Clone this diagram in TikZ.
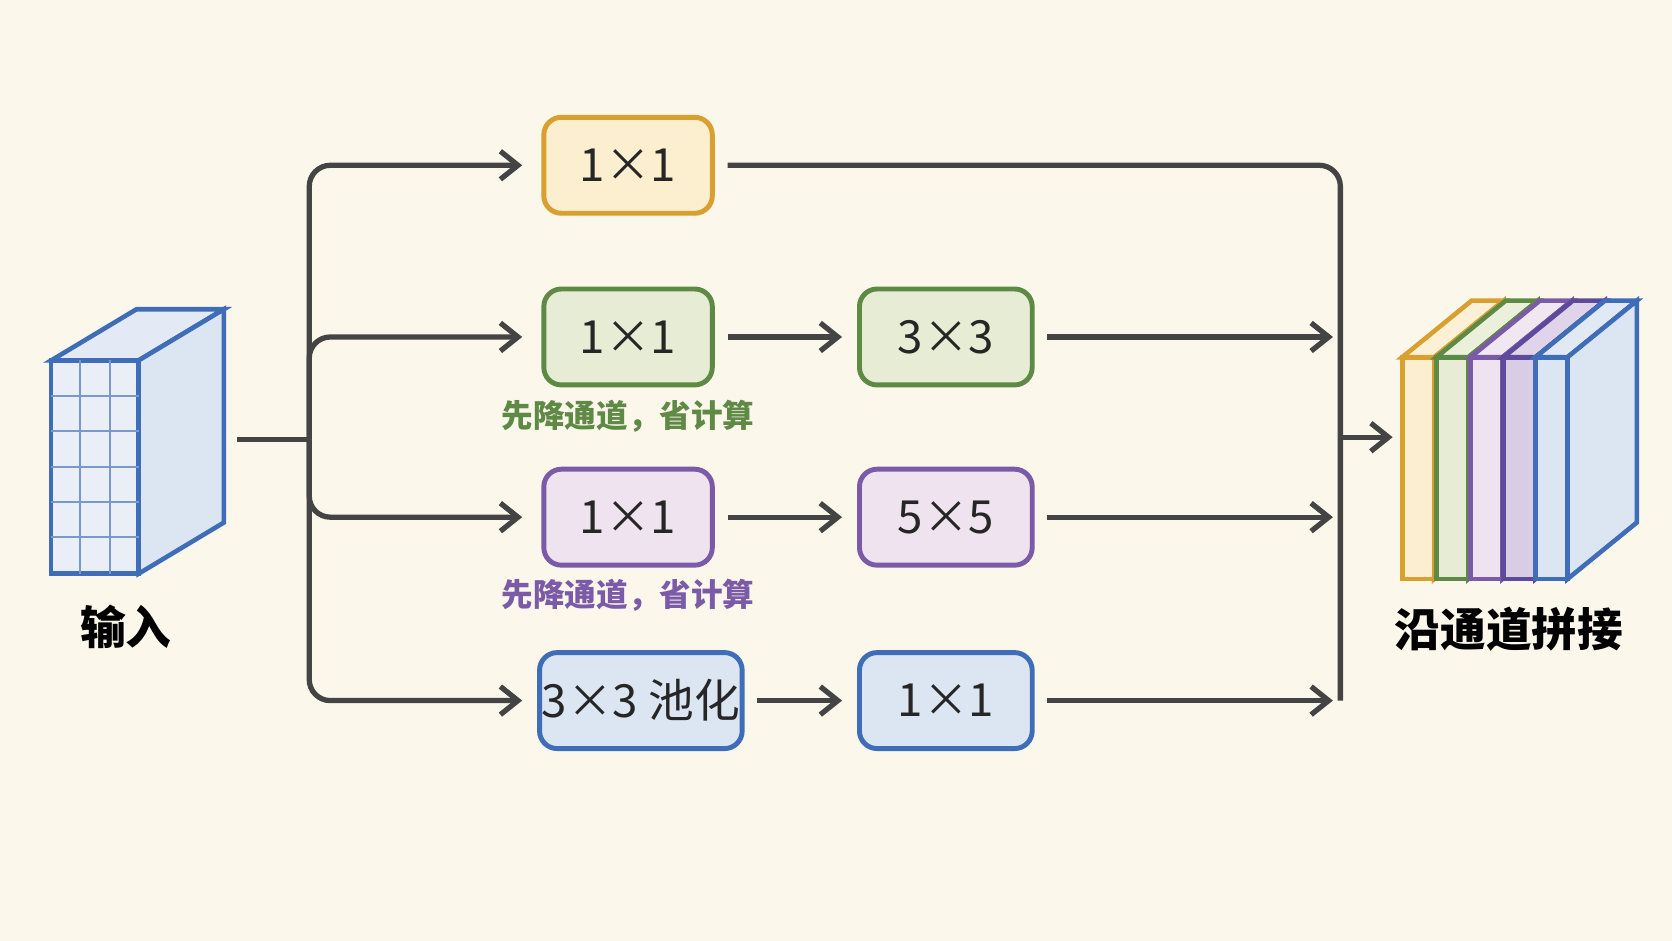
\documentclass[tikz,border=0pt]{standalone}
\usepackage{fontspec}
\setmainfont{Noto Sans CJK SC}
\usetikzlibrary{arrows.meta}
\definecolor{bg}{HTML}{FBF7EA}
\definecolor{ln}{HTML}{444444}
\definecolor{oB}{HTML}{D9A030}\definecolor{oF}{HTML}{FBEFCF}
\definecolor{gB}{HTML}{5E8A45}\definecolor{gF}{HTML}{E7EDD5}
\definecolor{pB}{HTML}{7B5BA8}\definecolor{pF}{HTML}{EEE3EE}
\definecolor{vB}{HTML}{5E4A9A}\definecolor{vF}{HTML}{D9CDE6}
\definecolor{bB}{HTML}{3F6DB8}\definecolor{bF}{HTML}{DCE5F2}
\def\PX{0.010663cm}
\begin{document}
\begin{tikzpicture}[x=0.010663cm,y=-0.010663cm,
  box/.style={draw=#1B,fill=#1F,line width=1.4pt,rounded corners=5pt,font=\fontsize{13}{13}\selectfont,text=black!85,inner sep=0pt,minimum height=90*\PX},
  arr/.style={draw=ln,line width=1.5pt,-{Straight Barb[length=5pt,width=8pt]},rounded corners=6pt},
  wire/.style={draw=ln,line width=1.5pt,rounded corners=6pt},
  note/.style={font=\fontsize{9}{9}\selectfont\bfseries}]
\fill[bg] (0,0) rectangle (1568,882);
\useasboundingbox (0,0) rectangle (1568,882);
% input cube
\filldraw[draw=bB,fill=bF!80!white,line width=1.3pt] (48,338)--(128,290)--(210,290)--(130,338)--cycle;
\filldraw[draw=bB,fill=bF,line width=1.3pt] (130,338)--(210,290)--(210,490)--(130,538)--cycle;
\filldraw[draw=bB,fill=bF!60!white,line width=1.3pt] (48,338) rectangle (130,538);
\foreach \x in {75,103} \draw[bB!70,line width=0.6pt] (\x,338)--(\x,538);
\foreach \y in {371,404,438,471,504} \draw[bB!70,line width=0.6pt] (48,\y)--(130,\y);
\coordinate (inR) at (222,412);
\node[font=\fontsize{13}{13}\selectfont\bfseries] (lin) at (118,588) {输入};
% boxes
\node[box=o,minimum width=158*\PX] (a1) at (589,155) {1×1};
\node[box=g,minimum width=158*\PX] (b1) at (589,316) {1×1};
\node[box=g,minimum width=162*\PX] (b2) at (887,316) {3×3};
\node[box=p,minimum width=158*\PX] (c1) at (589,485) {1×1};
\node[box=p,minimum width=162*\PX] (c2) at (887,485) {5×5};
\node[box=b,minimum width=190*\PX] (d1) at (601,657) {3×3 池化};
\node[box=b,minimum width=162*\PX] (d2) at (887,657) {1×1};
\node[note,text=gB] (n1) at (589,390) {先降通道，省计算};
\node[note,text=pB] (n2) at (589,558) {先降通道，省计算};
% input bus
\draw[wire] (inR)--(290,412);
\draw[arr] (290,412)--(290,155)--([xshift=-18*\PX]a1.west);
\draw[arr] (290,412)--(290,316)--([xshift=-18*\PX]b1.west);
\draw[arr] (290,412)--(290,485)--([xshift=-18*\PX]c1.west);
\draw[arr] (290,412)--(290,657)--([xshift=-14*\PX]d1.west);
\draw[arr] ([xshift=12*\PX]b1.east)--([xshift=-14*\PX]b2.west);
\draw[arr] ([xshift=12*\PX]c1.east)--([xshift=-14*\PX]c2.west);
\draw[arr] ([xshift=12*\PX]d1.east)--([xshift=-14*\PX]d2.west);
% output bus
\draw[wire] ([xshift=12*\PX]a1.east)--(1257,155)--(1257,657);
\draw[arr] ([xshift=12*\PX]b2.east)--(1250,316);
\draw[arr] ([xshift=12*\PX]c2.east)--(1250,485);
\draw[arr] ([xshift=12*\PX]d2.east)--(1250,657);
\coordinate (m) at (1257,410);
\coordinate (outL) at (1306,410);
\draw[arr] (m)--(outL);
% output stack
\foreach \x/\c in {1315/o,1347/g,1379/p,1410/v,1440/b}{
  \filldraw[draw=\c B,fill=\c F!85!white,line width=1.3pt] (\x,335)--(\x+65,282)--(\x+95,282)--(\x+30,335)--cycle;
  \filldraw[draw=\c B,fill=\c F,line width=1.3pt] (\x+30,335)--(\x+95,282)--(\x+95,490)--(\x+30,543)--cycle;
  \filldraw[draw=\c B,fill=\c F,line width=1.3pt] (\x,335) rectangle (\x+30,543);
}
\node[font=\fontsize{13}{13}\selectfont\bfseries] (lout) at (1415,590) {沿通道拼接};
\end{tikzpicture}
\end{document}
